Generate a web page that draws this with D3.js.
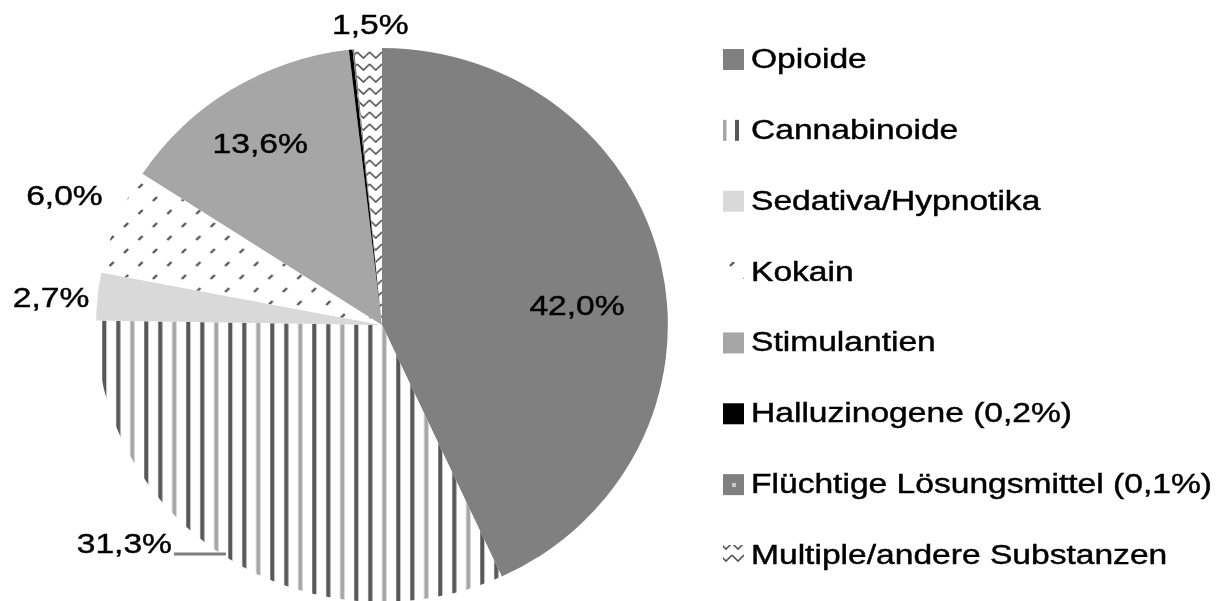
<!DOCTYPE html>
<html>
<head>
<meta charset="utf-8">
<script src="https://cdn.jsdelivr.net/npm/d3@7"></script>
<style>
    body { margin: 0; background: #fff; }
    svg { display: block; }
    text { font-family: "Liberation Sans", Arial, sans-serif; font-size: 28px; fill: #000; stroke: #000; stroke-width: 0.45px; }
</style>
</head>
<body>
<script>
// data (percent of cases)
var categories = ["Opioide", "Cannabinoide", "Sedativa/Hypnotika", "Kokain", "Stimulantien",
                  "Halluzinogene", "Flüchtige Lösungsmittel", "Multiple/andere Substanzen"];
var shares = [42.0, 31.3, 2.7, 6.0, 13.6, 0.2, 0.1, 1.5];
var sliceLabels = ["42,0%", "31,3%", "2,7%", "6,0%", "13,6%", "", "", "1,5%"];
var legendLabels = ["Opioide", "Cannabinoide", "Sedativa/Hypnotika", "Kokain", "Stimulantien",
                    "Halluzinogene (0,2%)", "Flüchtige Lösungsmittel (0,1%)", "Multiple/andere Substanzen"];

function plot_pie()
{
    var width = 1222,
        height = 601,
        cx = 382,
        cy = 325,
        radius = 277,
        stretch = 1.032,   // the chart is a touch wider than tall
        textStretch = 1.2;

    var fills = ["#808080", "url(#pCanna)", "#d9d9d9", "url(#pKokain)", "#a6a6a6",
                 "#000000", "url(#pFluecht)", "url(#pMulti)"];
    var legendFills = fills.slice();
    legendFills[1] = "url(#pCannaLeg)";

    // label placement: radius as fraction of pie radius, angle nudge in degrees
    var labelPlace = [
        {r: 0.686, da: 6.4},
        {leader: true},
        {r: 1.162, da: -0.9},
        {r: 1.206, da: 0.9},
        {r: 0.783, da: -1.2},
        null,
        null,
        {r: 1.087, da: 0.6}
    ];

    var svg = d3.select("body")
        .append("svg")
        .attr("width", width)
        .attr("height", height);

    var defs = svg.append("defs");

    // the source picture is a soft upscale, so soften a little
    defs.append("filter")
        .attr("id", "soft")
        .append("feGaussianBlur")
        .attr("stdDeviation", 0.55);

    // vertical stripes (Cannabinoide)
    var pc = defs.append("pattern")
        .attr("id", "pCanna")
        .attr("patternUnits", "userSpaceOnUse")
        .attr("x", 13.8).attr("y", 0)
        .attr("width", 40.7).attr("height", 10);
    pc.append("rect").attr("width", 40.7).attr("height", 10).attr("fill", "#fff");
    pc.append("rect").attr("x", 0).attr("width", 4).attr("height", 10).attr("fill", "#595959");
    pc.append("rect").attr("x", 13.57).attr("width", 4).attr("height", 10).attr("fill", "#595959");
    pc.append("rect").attr("x", 27.14).attr("width", 4).attr("height", 10).attr("fill", "#a6a6a6");

    var pcl = defs.append("pattern")
        .attr("id", "pCannaLeg")
        .attr("patternUnits", "userSpaceOnUse")
        .attr("x", 723).attr("y", 0)
        .attr("width", 24).attr("height", 10);
    pcl.append("rect").attr("width", 24).attr("height", 10).attr("fill", "#fff");
    pcl.append("rect").attr("x", 0).attr("width", 3.5).attr("height", 10).attr("fill", "#a6a6a6");
    pcl.append("rect").attr("x", 12).attr("width", 4).attr("height", 10).attr("fill", "#595959");

    // small diagonal dashes (Kokain)
    var pk = defs.append("pattern")
        .attr("id", "pKokain")
        .attr("patternUnits", "userSpaceOnUse")
        .attr("width", 28).attr("height", 26);
    pk.append("rect").attr("width", 28).attr("height", 26).attr("fill", "#fff");
    pk.append("path").attr("d", "M2,6 L6,2 M16,19 L20,15")
        .attr("stroke", "#595959").attr("stroke-width", 2.4).attr("fill", "none");

    // gray with a light dot (Flüchtige Lösungsmittel)
    var pf = defs.append("pattern")
        .attr("id", "pFluecht")
        .attr("patternUnits", "userSpaceOnUse")
        .attr("x", 723).attr("y", 474)
        .attr("width", 21).attr("height", 21);
    pf.append("rect").attr("width", 21).attr("height", 21).attr("fill", "#808080");
    pf.append("rect").attr("x", 9).attr("y", 9).attr("width", 4).attr("height", 4).attr("fill", "#c8c8c8");

    // zigzag (Multiple/andere)
    var pm = defs.append("pattern")
        .attr("id", "pMulti")
        .attr("patternUnits", "userSpaceOnUse")
        .attr("width", 12).attr("height", 12);
    pm.append("rect").attr("width", 12).attr("height", 12).attr("fill", "#fff");
    pm.append("path").attr("d", "M0,3 L6,9 L12,3")
        .attr("stroke", "#595959").attr("stroke-width", 1.6).attr("fill", "none");

    var root = svg.append("g").attr("filter", "url(#soft)");

    var pie = d3.pie()
        .sort(null)
        .value(function(d) { return d; });

    var arc = d3.arc()
        .innerRadius(0)
        .outerRadius(radius);

    var arcs = pie(shares);

    var g = root.append("g")
        .attr("transform", "translate(" + cx + "," + cy + ") scale(" + stretch + ",1)");

    g.selectAll(".slice")
        .data(arcs)
        .enter().append("path")
        .attr("class", "slice")
        .attr("d", arc)
        .attr("fill", function(d, i) { return fills[i]; });

    function polar(a, r) {
        return [cx + Math.sin(a) * r * stretch, cy - Math.cos(a) * r];
    }

    // slice labels
    arcs.forEach(function(d, i) {
        var lp = labelPlace[i];
        if (!lp || !sliceLabels[i]) return;
        var mid = (d.startAngle + d.endAngle) / 2;
        if (lp.leader) {
            var e = polar(mid, radius);
            root.append("line")
                .attr("x1", e[0]).attr("y1", e[1] - 3)
                .attr("x2", e[0] - 52).attr("y2", e[1] - 3)
                .attr("stroke", "#7f7f7f").attr("stroke-width", 3);
            root.append("text")
                .attr("transform", "translate(" + (e[0] - 54) + "," + (e[1] - 4) + ") scale(" + textStretch + ",1)")
                .attr("text-anchor", "end")
                .text(sliceLabels[i]);
            return;
        }
        var p = polar(mid + lp.da * Math.PI / 180, lp.r * radius);
        root.append("text")
            .attr("transform", "translate(" + p[0] + "," + p[1] + ") scale(" + textStretch + ",1)")
            .attr("text-anchor", "middle")
            .attr("dy", "0.36em")
            .text(sliceLabels[i]);
    });

    // legend
    var legendY = d3.scalePoint()
        .domain(d3.range(categories.length))
        .range([59, 555]);

    var item = root.selectAll(".legend")
        .data(categories)
        .enter().append("g")
        .attr("class", "legend");

    item.append("rect")
        .attr("x", 723)
        .attr("y", function(d, i) { return legendY(i) - 10; })
        .attr("width", 21)
        .attr("height", 21)
        .attr("fill", function(d, i) { return legendFills[i]; });

    item.append("text")
        .attr("transform", function(d, i) {
            return "translate(751," + (legendY(i) + 9) + ") scale(" + textStretch + ",1)";
        })
        .text(function(d, i) { return legendLabels[i]; });
}

plot_pie();
</script>
</body>
</html>
